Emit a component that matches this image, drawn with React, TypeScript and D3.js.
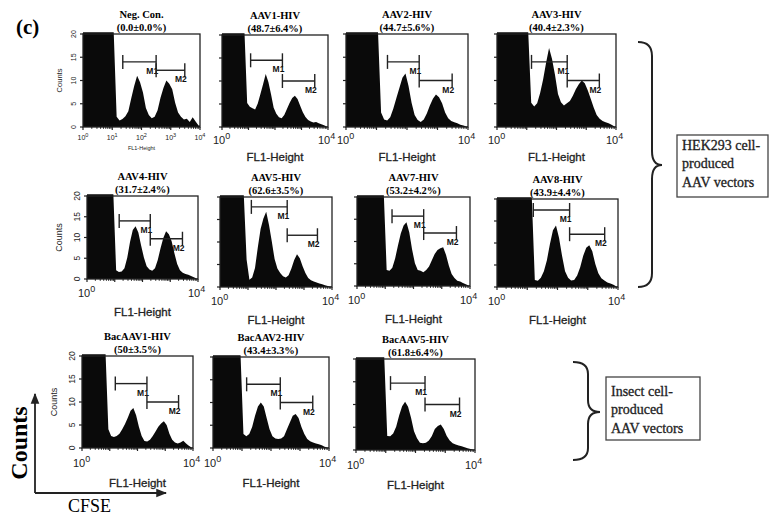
import React from "react";
import * as d3 from "d3";

// panel headings
const panelTitles = ["Neg. Con.", "AAV1-HIV", "AAV2-HIV", "AAV3-HIV", "AAV4-HIV", "AAV5-HIV", "AAV7-HIV", "AAV8-HIV", "BacAAV1-HIV", "BacAAV2-HIV", "BacAAV5-HIV"];
const panelPercents = ["(0.0±0.0%)", "(48.7±6.4%)", "(44.7±5.6%)", "(40.4±2.3%)", "(31.7±2.4%)", "(62.6±3.5%)", "(53.2±4.2%)", "(43.9±4.4%)", "(50±3.5%)", "(43.4±3.3%)", "(61.8±6.4%)"];

// counts per 0.1-decade bin from 10^0 to 10^4 (25 = off scale)
const countsNegCon = [25, 25, 25, 25, 25, 25, 25, 25, 25, 25, 25, 2.2, 1.4, 1.7, 2.3, 3.4, 6.2, 8.8, 11, 9.6, 7.4, 4.1, 2.6, 1.9, 2.2, 3.6, 6.3, 8.4, 10, 9.3, 8.1, 5.2, 3.1, 2.2, 1.6, 1.8, 1.1, 2.1, 1.2, 0.3];
const countsAAV1 = [25, 25, 25, 25, 25, 25, 25, 25, 25, 5.2, 4.4, 4.1, 3.8, 5.1, 7.2, 9.3, 11.5, 9.8, 7.1, 4.2, 2.9, 2.1, 1.9, 2.6, 3.9, 5.2, 6.3, 6.8, 6.1, 4.6, 3.2, 2.2, 1.5, 1.2, 1, 1.1, 0.8, 0.6, 0.4, 0.1];
const countsAAV2 = [25, 25, 25, 25, 25, 25, 25, 25, 25, 25, 25, 3.1, 1.6, 1.4, 2.1, 3.9, 6.2, 8.4, 10.6, 11.5, 8.8, 5.2, 2.6, 1.5, 1.1, 1.6, 2.9, 4.6, 6.1, 7, 6.4, 5.1, 3.1, 1.9, 1.3, 1, 0.8, 0.5, 0.3, 0.1];
const countsAAV3 = [25, 25, 25, 25, 25, 25, 25, 25, 25, 25, 25, 5.2, 4.4, 5.1, 7.3, 10.2, 13.8, 17, 14.6, 11.2, 7.1, 5.3, 4.6, 5.1, 5.6, 6.7, 8.1, 9.2, 10, 9.4, 7.9, 6.1, 4.2, 2.6, 1.8, 1.3, 1, 0.8, 0.5, 0.1];
const countsAAV4 = [25, 25, 25, 25, 25, 25, 25, 25, 25, 25, 2.1, 1.7, 1.8, 2.6, 5.1, 8.9, 11.8, 12.7, 11.2, 8.1, 5.2, 3.1, 2.3, 2, 2.6, 4.6, 7.4, 9.9, 11.5, 10.8, 9.1, 6.2, 3.6, 2.1, 1.5, 1.2, 1, 0.7, 0.4, 0.1];
const countsAAV5 = [25, 25, 25, 25, 25, 25, 25, 25, 25, 6.1, 1.6, 2.1, 4.2, 8.8, 12.9, 15.2, 16.7, 13.8, 10.1, 6.2, 4.1, 3.1, 2.4, 2.1, 2.6, 4.1, 6, 7.3, 6.4, 4.6, 3.1, 2, 1.5, 1.2, 1, 0.8, 0.6, 0.4, 0.2, 0.1];
const countsAAV7 = [25, 25, 25, 25, 25, 25, 25, 25, 25, 25, 3.6, 3.4, 4.1, 6.2, 9.1, 11.8, 13.6, 14.3, 12.1, 8.2, 5.1, 3.6, 3.4, 3.1, 3.6, 4.4, 5.8, 7.2, 8.1, 8.5, 8.7, 7, 4.6, 2.7, 1.8, 1.2, 1, 0.7, 0.4, 0.1];
const countsAAV8 = [25, 25, 25, 25, 25, 25, 25, 25, 25, 25, 25, 25, 1.6, 1.4, 2.1, 3.6, 6.1, 9.8, 12.9, 14, 11.2, 7.1, 3.6, 2.1, 1.5, 1.6, 2.6, 4.5, 7.1, 8.9, 9.5, 8.1, 5.2, 3.1, 2, 1.5, 1, 0.8, 0.5, 0.1];
const countsBacAAV1 = [25, 25, 25, 25, 25, 25, 25, 25, 25, 4.1, 2.6, 2.4, 2.6, 3.1, 4.1, 5.2, 6.6, 8.1, 8.7, 7.1, 4.6, 2.6, 1.5, 1.4, 1.8, 2.6, 3.6, 4.6, 5.3, 5.8, 5, 3.1, 1.8, 1.2, 1, 1.2, 1.6, 1, 0.5, 0.1];
const countsBacAAV2 = [25, 25, 25, 25, 25, 25, 25, 25, 25, 25, 3.1, 2.6, 3.1, 4.6, 7.1, 9.1, 10, 9.1, 6.6, 4.1, 2.6, 2.1, 2, 2.1, 2.6, 4.1, 5.6, 7.1, 7.5, 6.6, 4.6, 3.1, 2, 1.5, 1.2, 1, 0.8, 0.6, 0.3, 0.1];
const countsBacAAV5 = [25, 25, 25, 25, 25, 25, 25, 25, 25, 25, 3.1, 3, 3.6, 5.1, 7.6, 9.6, 10.6, 9.5, 7.1, 4.1, 2.6, 1.6, 1.5, 1.6, 2.1, 3.1, 4.6, 5.3, 5.6, 4.6, 3.1, 2.1, 1.5, 1.2, 1, 0.8, 0.6, 0.4, 0.2, 0.1];
const panelCounts = [countsNegCon, countsAAV1, countsAAV2, countsAAV3, countsAAV4, countsAAV5, countsAAV7, countsAAV8, countsBacAAV1, countsBacAAV2, countsBacAAV5];

// marker gates: [from decade, to decade, count level]
const gatesM1 = [[1.36, 2.5, 14], [1.08, 2.28, 14.5], [1.36, 2.4, 14], [1.16, 2.36, 14], [1.16, 2.28, 14], [1.12, 2.4, 17.8], [1.24, 2.36, 15.7], [1.2, 2.4, 17.5], [1.2, 2.34, 14], [1.16, 2.32, 14], [1.16, 2.32, 14.7]];
const gatesM2 = [[2.5, 3.48, 12.2], [2.28, 3.5, 10], [2.4, 3.48, 10], [2.36, 3.44, 10], [2.28, 3.44, 9.7], [2.4, 3.48, 11.5], [2.36, 3.52, 11.9], [2.4, 3.56, 12], [2.34, 3.48, 10], [2.32, 3.44, 10], [2.32, 3.48, 10]];

const yTickValues = [0, 5, 10, 15, 20];
const decadeValues = [0, 1, 2, 3, 4];
const minorSteps = [2, 3, 4, 5, 6, 7, 8, 9];
const hekLabel = ["HEK293 cell-", "produced", "AAV vectors"];
const insectLabel = ["Insect cell-", "produced", "AAV vectors"];

// layout of the eleven plot frames
const frames = [
  { x: 83, y: 34, w: 117, h: 93, row: 0 },
  { x: 222, y: 35, w: 106, h: 92, row: 0 },
  { x: 346, y: 34, w: 122, h: 93, row: 0 },
  { x: 497, y: 34, w: 119, h: 93, row: 0 },
  { x: 87, y: 196, w: 111, h: 83, row: 1 },
  { x: 220, y: 197, w: 112, h: 90, row: 1 },
  { x: 357, y: 197, w: 113, h: 89, row: 1 },
  { x: 497, y: 199, w: 121, h: 88, row: 1 },
  { x: 82, y: 356, w: 111, h: 92, row: 2 },
  { x: 213, y: 357, w: 116, h: 91, row: 2 },
  { x: 356, y: 359, w: 119, h: 91, row: 2 },
];
const tickLabelDy = [17, 18, 19];
const axisTitleDy = [34, 37, 39];

const serif = "'Liberation Serif', 'Times New Roman', serif";
const sans = "'Liberation Sans', Arial, sans-serif";

function Histogram({ i }: { i: number }) {
  const f = frames[i];
  const x = d3.scaleLinear().domain([0, 4]).range([f.x, f.x + f.w]);
  const y = d3.scaleLinear().domain([0, 20]).range([f.y + f.h, f.y]);
  const counts = panelCounts[i];
  // bin centres, held flat out to the axis ends
  const series: [number, number][] = counts.map((c, k) => [(k + 0.5) / 10, Math.min(c, 20.4)]);
  series.unshift([0, series[0][1]]);
  series.push([4, series[series.length - 1][1]]);
  const area = d3.area<[number, number]>()
    .x(d => x(d[0]))
    .y0(y(0))
    .y1(d => y(d[1]))
    .curve(d3.curveLinear);
  const isFirst = i === 0;
  const hasY = i === 0 || i === 4 || i === 8;
  const cx = f.x + f.w / 2;
  const bottom = f.y + f.h;
  const minor: number[] = [];
  for (let d = 0; d < 4; d++) minorSteps.forEach(m => minor.push(d + Math.log10(m)));

  const gate = (g: number[], label: string, dy: number) => {
    const gy = y(g[2]);
    return (
      <g stroke="#222" strokeWidth={1.4}>
        <line x1={x(g[0])} x2={x(g[1])} y1={gy} y2={gy} />
        <line x1={x(g[0])} x2={x(g[0])} y1={gy - 7} y2={gy + 7} />
        <line x1={x(g[1])} x2={x(g[1])} y1={gy - 7} y2={gy + 7} />
        <text x={x(g[1]) + 2} y={gy + dy} textAnchor="end" fontFamily={sans} fontWeight="bold" fontSize={8.5} fill="#111" stroke="none">{label}</text>
      </g>
    );
  };

  return (
    <g>
      <path d={area(series) || ""} fill="#0a0a0a" />
      <rect x={f.x} y={f.y} width={f.w} height={f.h} fill="none" stroke="#222" strokeWidth={1.3} />
      {yTickValues.map(t => (
        <line key={t} x1={f.x - 3} x2={f.x} y1={y(t)} y2={y(t)} stroke="#222" strokeWidth={1.2} />
      ))}
      {decadeValues.map(t => (
        <line key={t} x1={x(t)} x2={x(t)} y1={bottom} y2={bottom + 3} stroke="#222" strokeWidth={1.2} />
      ))}
      {minor.map((t, k) => (
        <line key={k} x1={x(t)} x2={x(t)} y1={bottom} y2={bottom + 1.8} stroke="#222" strokeWidth={1} />
      ))}
      {gate(gatesM1[i], "M1", 12)}
      {gate(gatesM2[i], "M2", 12)}
      <text x={cx} y={f.y - 16} textAnchor="middle" fontFamily={serif} fontWeight="bold" fontSize={10.5}>{panelTitles[i]}</text>
      <text x={cx} y={f.y - 3} textAnchor="middle" fontFamily={serif} fontWeight="bold" fontSize={10.5}>{panelPercents[i]}</text>
      {isFirst ? (
        <g fontFamily={sans} fill="#222">
          {decadeValues.map(t => (
            <text key={t} x={x(t)} y={bottom + 13} textAnchor="middle" fontSize={7}>
              10<tspan dy={-3} fontSize={5.5}>{t}</tspan>
            </text>
          ))}
          <text x={cx} y={bottom + 23} textAnchor="middle" fontSize={5.5}>FL1-Height</text>
        </g>
      ) : (
        <g fontFamily={sans} fill="#222">
          <text x={x(0) - 9} y={bottom + tickLabelDy[f.row]} fontSize={11}>
            10<tspan dy={-5} fontSize={9}>0</tspan>
          </text>
          <text x={x(4) - 10} y={bottom + tickLabelDy[f.row]} fontSize={11}>
            10<tspan dy={-5} fontSize={9}>4</tspan>
          </text>
          <text x={cx} y={bottom + axisTitleDy[f.row]} textAnchor="middle" fontSize={11.5} stroke="#222" strokeWidth={0.3}>FL1-Height</text>
        </g>
      )}
      {hasY && (
        <g fontFamily={sans} fill="#222">
          {yTickValues.map(t => (
            <text key={t} transform={`translate(${f.x - 7},${y(t)}) rotate(-90)`} textAnchor="middle" fontSize={isFirst ? 7 : 8.5}>{t}</text>
          ))}
          <text transform={`translate(${f.x - (isFirst ? 21 : 25)},${f.y + f.h / 2}) rotate(-90)`} textAnchor="middle" fontSize={isFirst ? 7.5 : 9}>Counts</text>
        </g>
      )}
    </g>
  );
}

function bracePath(x0: number, x1: number, x2: number, y0: number, y1: number, yc: number, r: number) {
  const p = d3.path();
  p.moveTo(x0, y0);
  p.quadraticCurveTo(x1, y0, x1, y0 + r);
  p.lineTo(x1, yc - r);
  p.quadraticCurveTo(x1, yc, x2, yc);
  p.quadraticCurveTo(x1, yc, x1, yc + r);
  p.lineTo(x1, y1 - r);
  p.quadraticCurveTo(x1, y1, x0, y1);
  return p.toString();
}

function LabelBox({ x, y, w, h, lines, dy }: { x: number; y: number; w: number; h: number; lines: string[]; dy: number[] }) {
  return (
    <g>
      <rect x={x} y={y} width={w} height={h} fill="none" stroke="#444" strokeWidth={1.3} />
      {lines.map((l, k) => (
        <text key={k} x={x + 5} y={y + dy[k]} fontFamily={serif} fontSize={14} fill="#222" stroke="#222" strokeWidth={0.3}>{l}</text>
      ))}
    </g>
  );
}

export default function App() {
  return (
    <svg width={770} height={516} style={{ position: "absolute", left: 0, top: 0, background: "#fff" }}>
      <text x={16} y={34} fontFamily={serif} fontWeight="bold" fontSize={21}>(c)</text>
      {frames.map((_, i) => <Histogram key={i} i={i} />)}
      <path d={bracePath(638, 652, 662, 42, 287, 165, 14)} fill="none" stroke="#222" strokeWidth={2} />
      <path d={bracePath(573, 588, 600, 362, 460, 412, 12)} fill="none" stroke="#222" strokeWidth={2} />
      <LabelBox x={677} y={135} w={91} h={62} lines={hekLabel} dy={[15, 33, 52]} />
      <LabelBox x={606} y={377} w={94} h={63} lines={insectLabel} dy={[19, 37, 56]} />
      <defs>
        <marker id="arrow" viewBox="0 0 10 10" refX={9} refY={5} markerWidth={6} markerHeight={6} orient="auto">
          <path d="M0,1 L10,5 L0,9 Z" fill="#222" />
        </marker>
      </defs>
      <line x1={35} y1={493} x2={35} y2={394} stroke="#222" strokeWidth={1.8} markerEnd="url(#arrow)" />
      <line x1={35} y1={493} x2={166} y2={493} stroke="#222" strokeWidth={1.8} markerEnd="url(#arrow)" />
      <text transform="translate(27,443) rotate(-90)" textAnchor="middle" fontFamily={serif} fontWeight="bold" fontSize={24}>Counts</text>
      <text x={68} y={512} fontFamily={serif} fontSize={18}>CFSE</text>
    </svg>
  );
}
